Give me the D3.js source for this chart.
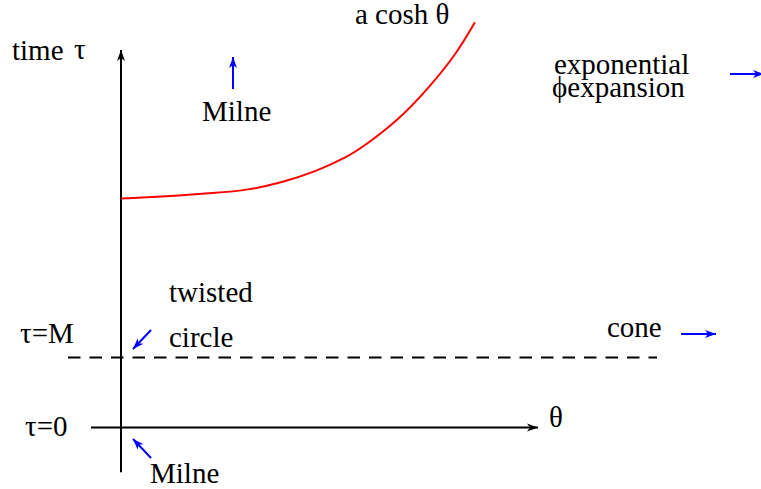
<!DOCTYPE html>
<html>
<head>
<meta charset="utf-8">
<script src="https://cdn.jsdelivr.net/npm/d3@7"></script>
</head>
<body style="margin:0">
<script>
const WIDTH = 761;
const HEIGHT = 489;

// theta in units of 100px, tau in units of M
const curveTheta = [0, 0.44, 0.94, 1.27, 1.61, 1.94, 2.27, 2.43, 2.76, 3.09, 3.36, 3.54];
const curveTau = [3.27, 3.30, 3.35, 3.39, 3.50, 3.65, 3.87, 4.02, 4.37, 4.87, 5.35, 5.79];
const levelLabels = ["τ=0", "τ=M"];
const levelValues = [0, 1];

const FRAME = d3.select("body")
  .append("svg")
    .attr("width", WIDTH)
    .attr("height", HEIGHT)
    .style("font-family", "'Liberation Serif'");

const X_SCALE = d3.scaleLinear().domain([0, 1]).range([121, 221]);
const Y_SCALE = d3.scaleLinear().domain([0, 1]).range([427.5, 357.5]);

const defs = FRAME.append("defs");
function marker(id, color) {
  defs.append("marker")
    .attr("id", id)
    .attr("viewBox", "-12 -6 14 12")
    .attr("refX", 0).attr("refY", 0)
    .attr("markerWidth", 14).attr("markerHeight", 12)
    .attr("markerUnits", "userSpaceOnUse")
    .attr("orient", "auto")
    .append("path")
      .attr("d", "M0,0 L-11,-4 L-8,0 L-11,4 Z")
      .attr("fill", color);
}
marker("ab", "#000");
marker("au", "#0000ff");

// axes
FRAME.append("line")
  .attr("x1", X_SCALE(0)).attr("x2", X_SCALE(0))
  .attr("y1", Y_SCALE(-0.64)).attr("y2", 50)
  .attr("stroke", "#000").attr("stroke-width", 2)
  .attr("marker-end", "url(#ab)");
FRAME.append("line")
  .attr("x1", X_SCALE(-0.3)).attr("x2", X_SCALE(4.17))
  .attr("y1", Y_SCALE(0)).attr("y2", Y_SCALE(0))
  .attr("stroke", "#000").attr("stroke-width", 2)
  .attr("marker-end", "url(#ab)");

// tau = M dashed
FRAME.append("line")
  .attr("x1", X_SCALE(-0.53)).attr("x2", X_SCALE(5.36))
  .attr("y1", Y_SCALE(1)).attr("y2", Y_SCALE(1))
  .attr("stroke", "#000").attr("stroke-width", 2)
  .attr("stroke-dasharray", "12.5,9");

// a cosh theta curve
const pts = curveTheta.map((t, i) => [t, curveTau[i]]);
FRAME.append("path")
  .datum(pts)
  .attr("fill", "none")
  .attr("stroke", "#ff0000")
  .attr("stroke-width", 2)
  .attr("d", d3.line()
    .x(d => X_SCALE(d[0]))
    .y(d => Y_SCALE(d[1]))
    .curve(d3.curveBasis));

// level labels
FRAME.append("g").selectAll("text")
  .data(levelLabels)
  .enter().append("text")
    .attr("x", (d, i) => i === 0 ? 25 : 20)
    .attr("y", (d, i) => Y_SCALE(levelValues[i]) - (i === 0 ? -8 : 15))
    .attr("font-size", 29)
    .text(d => d);

// texts
const texts = [
  ["time", 12, 60], ["τ", 74, 59], ["Milne", 202, 121], ["a cosh θ", 355, 24],
  ["exponential", 554, 74], ["ϕexpansion", 552, 97], ["twisted", 169, 302],
  ["circle", 169, 347], ["cone", 607, 337], ["θ", 549, 427], ["Milne", 150, 483]
];
FRAME.append("g").selectAll("text")
  .data(texts)
  .enter().append("text")
    .attr("x", d => d[1])
    .attr("y", d => d[2])
    .attr("font-size", 29)
    .text(d => d[0]);

// blue arrows
const arrows = [
  [233, 89, 233, 57], [730, 74, 764, 74], [151, 330, 133, 349],
  [151, 458, 133, 439], [681, 334, 716, 334]
];
FRAME.append("g").selectAll("line")
  .data(arrows)
  .enter().append("line")
    .attr("x1", d => d[0]).attr("y1", d => d[1])
    .attr("x2", d => d[2]).attr("y2", d => d[3])
    .attr("stroke", "#0000ff").attr("stroke-width", 2)
    .attr("marker-end", "url(#au)");
</script>
</body>
</html>
